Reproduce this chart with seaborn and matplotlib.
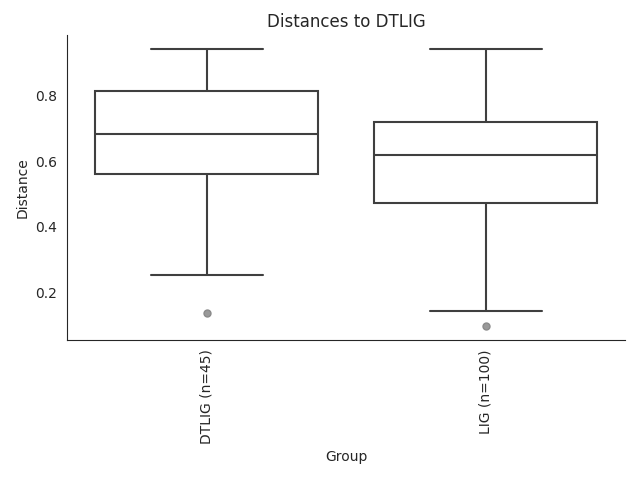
import pandas as pd
import seaborn as sns
import matplotlib
matplotlib.use("Agg")
import matplotlib.pyplot as plt

# ---- Données (points représentatifs) ---- #
groups = ["DTLIG (n=45)", "LIG (n=100)"]
dtlig_vals = [0.136, 0.252, 0.561, 0.62, 0.684, 0.75, 0.815, 0.88, 0.944]
lig_vals = [0.096, 0.142, 0.472, 0.55, 0.619, 0.67, 0.720, 0.83, 0.944]

df = pd.DataFrame({
    "Group": [groups[0]] * len(dtlig_vals) + [groups[1]] * len(lig_vals),
    "Distance": dtlig_vals + lig_vals,
})

sns.set_style("white")
fig, ax = plt.subplots(figsize=(6.4, 4.8), dpi=100)
sns.boxplot(data=df, x="Group", y="Distance", order=groups, color="white",
            linecolor="#3f3f3f", linewidth=1.5, width=0.8, whis=1.5,
            flierprops=dict(marker="o", markerfacecolor="#999999",
                            markeredgecolor="#8a8a8a", markersize=5), ax=ax)
ax.set_title("Distances to DTLIG")
ax.set_xlabel("Group")
ax.set_ylabel("Distance")
plt.xticks(rotation=90)
sns.despine()
plt.subplots_adjust(left=0.105, right=0.977, top=0.927, bottom=0.292)
plt.savefig("out.png")
